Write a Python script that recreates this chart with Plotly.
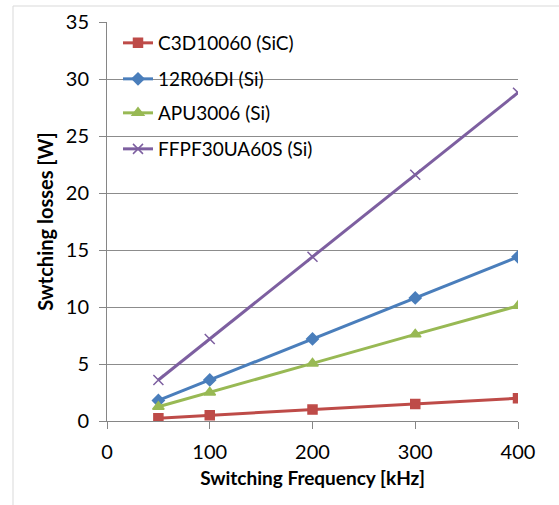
import plotly.graph_objects as go

freq = [50, 100, 200, 300, 400]
c3d = [0.25, 0.5, 1.0, 1.5, 2.0]
r06 = [1.8, 3.6, 7.2, 10.8, 14.4]
apu = [1.25, 2.5, 5.05, 7.6, 10.1]
ffpf = [3.6, 7.2, 14.4, 21.6, 28.8]

names = ["C3D10060 (SiC)", "12R06DI (Si)", "APU3006 (Si)", "FFPF30UA60S (Si)"]
colors = ["#BE4B48", "#4A7EBB", "#98B954", "#7D5FA0"]
symbols = ["square", "diamond", "triangle-up", "x-thin"]
sizes = [9, 9, 10, 10]
series = [c3d, r06, apu, ffpf]

fig = go.Figure()
legend_names = ["legend", "legend2", "legend3", "legend4"]
for i, (nm, ys) in enumerate(zip(names, series)):
    fig.add_trace(go.Scatter(
        x=freq, y=ys, name=nm, mode="lines+markers",
        line=dict(color=colors[i], width=3),
        marker=dict(symbol=symbols[i], size=sizes[i], color=colors[i],
                    line=dict(color=colors[i], width=1.5)),
        legend=legend_names[i],
    ))

font = "Lato, 'Open Sans', sans-serif"
leg_y = [43, 79, 113, 149]
leg_common = dict(font=dict(family=font, size=19, color="#000000"),
                  bgcolor="rgba(0,0,0,0)", borderwidth=0,
                  xanchor="left", yanchor="middle", itemwidth=30)
layout_legs = {}
for i, ln in enumerate(legend_names):
    yp = (421 - leg_y[i]) / 399
    layout_legs[ln] = dict(x=(118 - 107) / 411, y=yp, **leg_common)

fig.update_layout(
    width=559, height=505,
    margin=dict(l=107, r=41, t=22, b=84, autoexpand=False),
    paper_bgcolor="white", plot_bgcolor="white",
    font=dict(family=font, size=20, color="#000000"),
    showlegend=True,
    xaxis=dict(range=[0, 400], tickvals=[0, 100, 200, 300, 400],
               showgrid=False, zeroline=False, showline=True,
               linecolor="#868686", linewidth=1,
               ticks="outside", ticklen=7, tickcolor="#868686",
               tickfont=dict(size=20), ticklabelstandoff=6,
               title=dict(text="<b>Switching Frequency [kHz]</b>",
                          font=dict(size=19), standoff=9)),
    yaxis=dict(range=[0, 35], tickvals=[0, 5, 10, 15, 20, 25, 30, 35],
               showgrid=True, gridcolor="#8C8C8C", gridwidth=1,
               zeroline=False, showline=True,
               linecolor="#868686", linewidth=1,
               ticks="outside", ticklen=7, tickcolor="#868686",
               tickfont=dict(size=20), ticklabelstandoff=6,
               title=dict(text="<b>Swtching losses [W]</b>",
                          font=dict(size=20), standoff=6)),
    shapes=[
        dict(type="line", xref="paper", yref="paper",
             x0=(13 - 107) / 411, x1=(13 - 107) / 411,
             y0=(421 - 6) / 399, y1=(421 - 505) / 399,
             line=dict(color="#D9D9D9", width=1)),
        dict(type="line", xref="paper", yref="paper",
             x0=(13 - 107) / 411, x1=(559 - 107) / 411,
             y0=(421 - 6) / 399, y1=(421 - 6) / 399,
             line=dict(color="#D9D9D9", width=1)),
    ],
    **layout_legs,
)

fig.write_html("out.html")
